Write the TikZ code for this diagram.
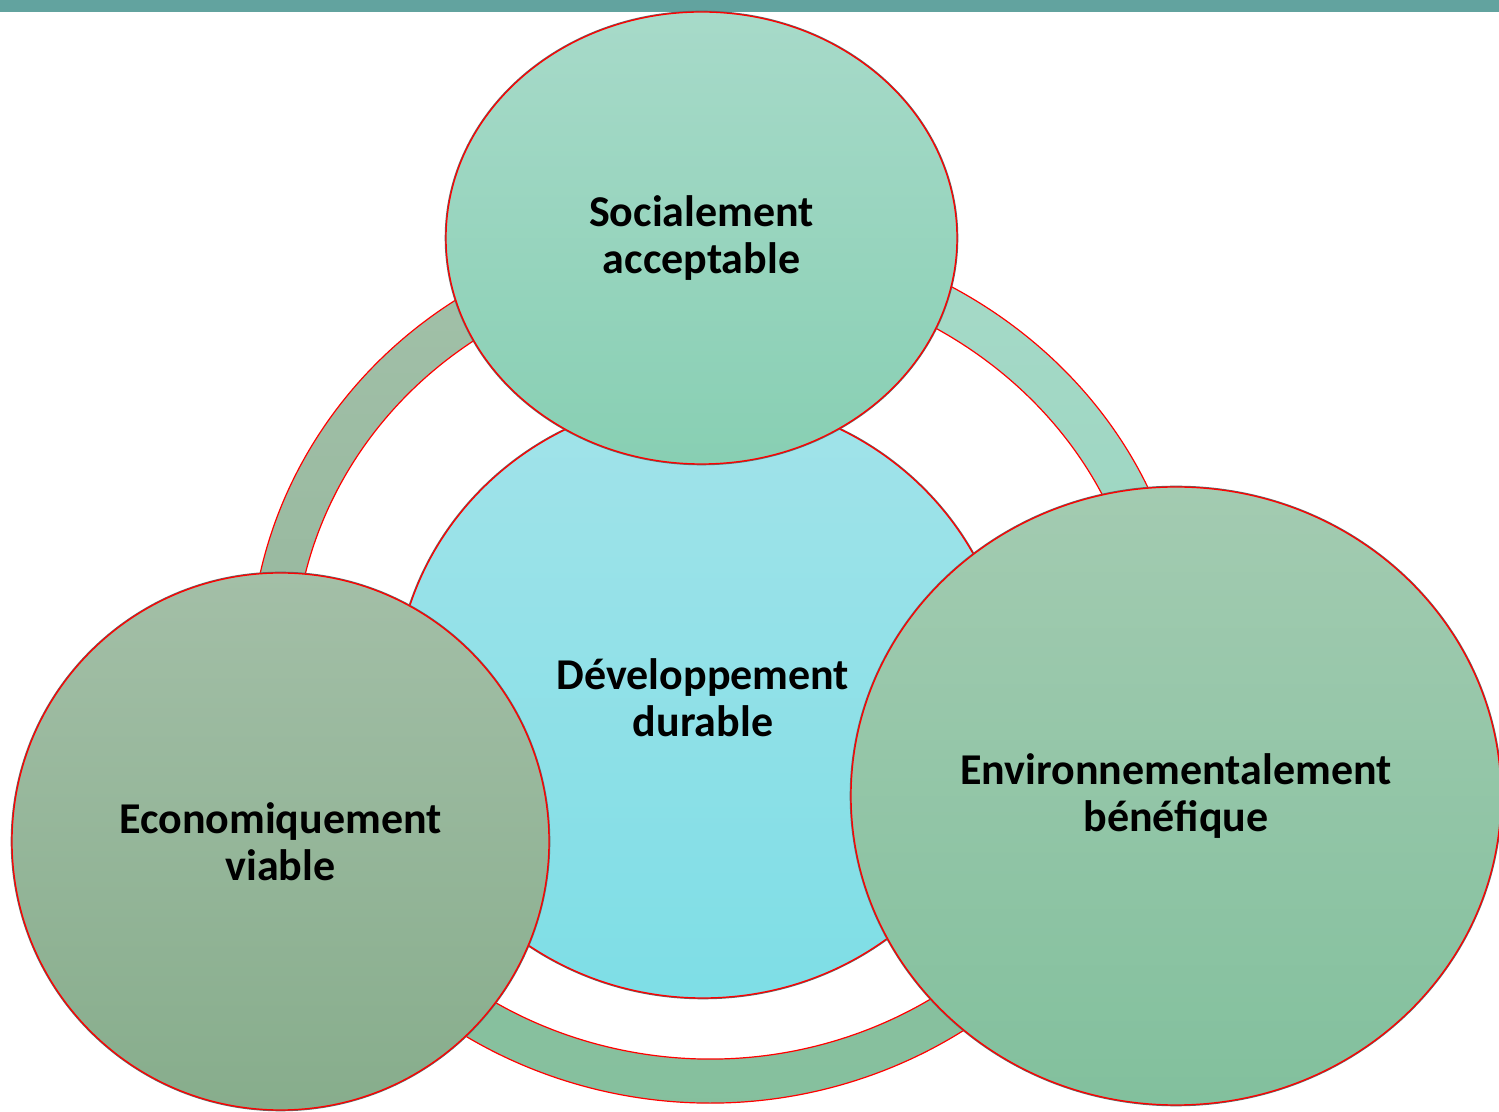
\documentclass[tikz,border=0pt]{standalone}
\usepackage{fontspec}
\setmainfont{Carlito}
\usetikzlibrary{shapes.geometric}

\definecolor{barteal}{HTML}{62A39F}
\definecolor{socTop}{HTML}{A7DAC9}
\definecolor{socBot}{HTML}{88CFB3}
\definecolor{devTop}{HTML}{A2E3E9}
\definecolor{devBot}{HTML}{7EDEE6}
\definecolor{ecoTop}{HTML}{A3BFA7}
\definecolor{ecoBot}{HTML}{87AD8C}
\definecolor{envTop}{HTML}{A3CBB1}
\definecolor{envBot}{HTML}{82C09D}
\definecolor{leftTop}{HTML}{A2C1A9}
\definecolor{leftBot}{HTML}{93B49A}
\definecolor{lowTop}{HTML}{88C2A0}
\definecolor{lowBot}{HTML}{86BF9D}
\definecolor{rightTop}{HTML}{A6DAC8}
\definecolor{rightBot}{HTML}{98D3BE}

\begin{document}
\begin{tikzpicture}[x=1pt,y=1pt,
  bubble/.style={ellipse, inner sep=0pt, align=center,
    preaction={draw=black!60, line width=2.6pt},
    draw=red, line width=1.3pt,
    font=\fontsize{44}{47}\selectfont\bfseries},
  band/.style={draw=red, line width=1.2pt}]
\useasboundingbox (0,0) rectangle (1499,1111);
\fill[barteal] (0,1099) rectangle (1499,1111);

% ring behind the circles
\coordinate (ringc) at (710,446);
\path[band, top color=leftTop, bottom color=leftBot]
  ([shift={(ringc)}]90:460 and 438) arc[start angle=90, end angle=205, x radius=460, y radius=438]
  -- ([shift={(ringc)}]205:416 and 394) arc[start angle=205, end angle=90, x radius=416, y radius=394] -- cycle;
\path[band, top color=lowTop, bottom color=lowBot]
  ([shift={(ringc)}]205:460 and 438) arc[start angle=205, end angle=345, x radius=460, y radius=438]
  -- ([shift={(ringc)}]345:416 and 394) arc[start angle=345, end angle=205, x radius=416, y radius=394] -- cycle;
\path[band, top color=rightTop, bottom color=rightBot]
  ([shift={(ringc)}]-15:479 and 438) arc[start angle=-15, end angle=90, x radius=479, y radius=438]
  -- ([shift={(ringc)}]90:435 and 394) arc[start angle=90, end angle=-15, x radius=435, y radius=394] -- cycle;

% circles
\node[bubble, minimum width=616pt, minimum height=600pt, top color=devTop, bottom color=devBot]
  (dev) at (703,413) {Développement\\durable};
\node[bubble, minimum width=511pt, minimum height=452pt, top color=socTop, bottom color=socBot]
  (soc) at (701.5,873) {Socialement\\acceptable};
\node[bubble, minimum width=537pt, minimum height=537pt, top color=ecoTop, bottom color=ecoBot]
  (eco) at (280.5,269.5) {Economiquement\\viable};
\node[bubble, minimum width=650pt, minimum height=618pt, top color=envTop, bottom color=envBot]
  (env) at (1176,315) {Environnementalement\\bénéfique};
\end{tikzpicture}
\end{document}
